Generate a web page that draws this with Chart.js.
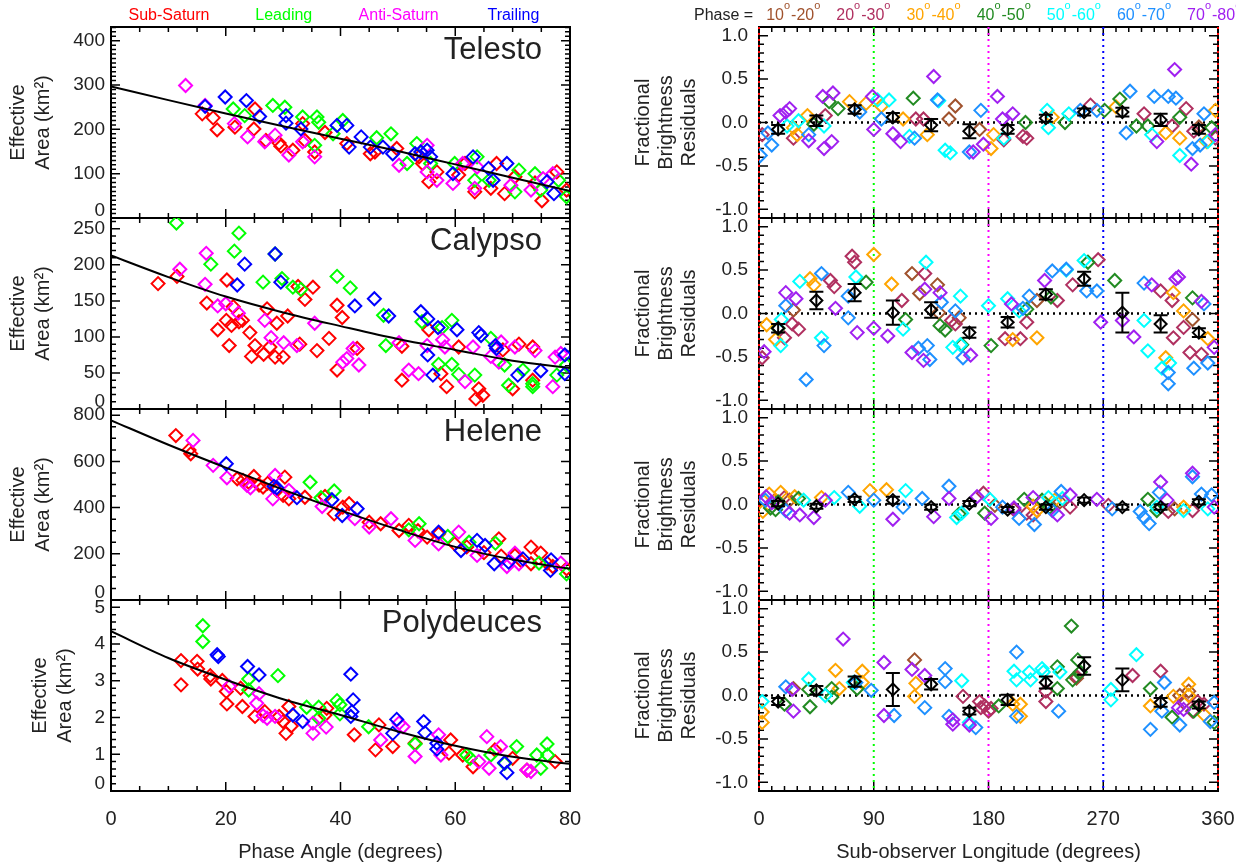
<!DOCTYPE html>
<html>
<head>
<meta charset="utf-8">
<script src="https://cdn.jsdelivr.net/npm/chart.js@4.4.0/dist/chart.umd.min.js"></script>
<style>
  body { margin: 0; background: #fff; width: 1236px; height: 867px; overflow: hidden; position: relative; }
  canvas { position: absolute; }
</style>
</head>
<body>
<script>
// ---- phase-angle panels: [phase (deg), effective area] per viewing side ----
const telSub = [[15.9,235],[17.8,226],[18.5,199],[21.6,205],[24.9,201],[25.1,246],[27.0,175],[29.3,169],[29.6,162],[31.7,153],[33.4,213],[33.8,175],[35.5,149],[37.3,193],[41.1,168],[45.2,145],[46.0,149],[49.8,157],[53.7,138],[54.3,123],[55.4,82],[56.8,104],[60.6,97],[61.7,123],[63.4,59],[66.2,67],[67.2,123],[68.6,55],[70.4,93],[73.9,79],[75.1,39],[77.7,104],[79.4,63]];
const telLead = [[21.3,246],[23.3,231],[28.2,254],[30.3,250],[33.4,228],[35.9,228],[36.2,216],[35.5,164],[38.7,190],[40.4,220],[46.3,181],[48.8,190],[51.6,123],[53.3,168],[55.7,123],[59.9,123],[63.4,85],[63.8,138],[65.9,85],[70.4,59],[71.1,108],[73.9,100],[74.9,63],[78.0,85],[79.4,48]];
const telAnti = [[13.0,299],[16.4,254],[21.5,213],[23.8,183],[26.8,172],[28.6,187],[31.0,142],[33.4,172],[35.5,138],[50.2,119],[55.1,164],[55.1,104],[56.8,85],[59.6,78],[61.3,123],[63.4,67],[63.8,115],[69.7,74],[73.2,63],[75.3,89],[77.0,100]];
const telTrail = [[16.4,252],[19.9,273],[23.6,265],[25.9,229],[30.5,231],[30.5,214],[33.1,201],[39.4,209],[41.1,209],[41.5,160],[43.6,183],[45.2,160],[47.4,160],[49.1,145],[53.0,145],[54.0,149],[55.1,153],[55.7,138],[59.6,100],[63.1,138],[65.8,112],[66.6,85],[69.0,123],[76.0,82],[77.2,55]];

const calSub = [[8.2,174],[11.5,184],[16.7,147],[18.6,110],[20.1,123],[20.2,179],[20.6,88],[21.0,116],[21.3,142],[22.3,121],[22.9,123],[24.2,106],[24.5,73],[25.1,88],[26.6,76],[27.2,139],[27.7,86],[28.6,72],[28.9,119],[30.0,72],[30.8,129],[32.6,170],[32.9,90],[33.8,152],[35.2,169],[35.9,81],[38.0,98],[39.4,144],[39.4,54],[40.3,127],[42.9,84],[50.7,40],[50.7,87],[55.4,110],[57.5,49],[58.5,31],[60.6,86],[64.1,28],[63.6,14],[64.8,19],[68.3,82],[70.0,28],[71.1,90],[73.5,86],[73.5,40]];
const calLead = [[11.4,258],[22.3,244],[21.5,219],[17.4,201],[26.5,176],[28.6,215],[29.8,181],[31.7,169],[33.1,166],[39.4,184],[41.7,168],[47.5,130],[47.9,88],[54.2,121],[57.1,62],[59.4,123],[57.7,113],[59.4,62],[60.6,48],[63.4,47],[66.2,98],[68.6,61],[69.3,33],[71.8,54],[73.5,35],[73.5,31],[77.7,47],[79.4,61]];
const calAnti = [[12.0,194],[16.6,216],[16.4,173],[18.6,143],[20.0,146],[22.2,133],[26.8,123],[27.9,99],[30.1,92],[32.4,88],[35.5,119],[40.4,65],[41.1,70],[42.2,84],[43.2,61],[50.2,92],[51.9,54],[53.6,49],[55.1,88],[57.8,96],[58.2,86],[61.7,38],[63.1,86],[66.2,73],[67.6,65],[68.0,93],[70.4,86],[73.9,81],[77.0,31],[77.4,72],[78.4,77]];
const calTrail = [[22.0,172],[23.3,201],[28.6,215],[29.6,176],[42.5,143],[45.9,153],[48.4,129],[54.0,135],[55.2,125],[57.0,113],[55.2,75],[56.1,47],[60.3,110],[64.1,106],[64.5,102],[67.0,88],[67.2,84],[70.9,47],[74.9,53],[79.1,75],[79.1,49]];

const helSub = [[11.3,712],[13.6,650],[13.9,633],[22.0,525],[23.0,518],[24.0,510],[24.9,535],[25.8,498],[26.5,489],[27.3,505],[28.9,475],[30.3,532],[30.0,453],[31.0,438],[33.8,445],[37.3,448],[38.9,373],[40.4,402],[41.5,417],[45.0,337],[47.0,330],[50.2,301],[51.9,323],[53.5,300],[55.1,272],[57.1,287],[59.9,243],[62.0,230],[65.0,205],[67.6,265],[68.0,190],[70.4,193],[71.5,170],[73.2,229],[74.9,203],[73.2,157],[76.0,160],[77.0,145],[79.4,135]];
const helLead = [[34.7,510],[36.6,443],[38.9,472],[51.9,304],[53.7,330],[58.7,275],[62.4,250],[67.0,246],[74.6,160],[79.4,113]];
const helAnti = [[14.3,691],[17.8,583],[20.2,529],[23.7,496],[24.3,486],[28.6,539],[28.2,438],[31.0,475],[36.8,405],[42.5,352],[45.0,316],[48.8,352],[53.0,258],[57.1,243],[60.6,294],[63.8,193],[69.0,145],[70.4,203],[71.1,157],[78.4,160]];
const helTrail = [[20.1,590],[28.4,492],[28.9,486],[32.4,443],[38.5,434],[40.3,366],[42.9,395],[57.1,294],[61.0,214],[63.8,258],[65.2,236],[66.8,157],[69.3,164],[71.8,178],[76.7,174],[76.6,128]];

const polSub = [[12.2,3.55],[12.2,2.89],[15.0,3.53],[15.1,3.32],[17.3,3.14],[17.4,3.05],[19.4,3.01],[20.1,2.71],[20.2,2.37],[22.6,2.80],[22.9,2.30],[25.1,2.03],[26.8,2.16],[29.3,2.03],[30.0,1.89],[30.5,1.57],[31.0,2.30],[31.4,1.77],[37.3,2.07],[37.6,2.25],[42.4,1.53],[46.1,1.12],[46.7,1.80],[49.1,1.21],[53.0,1.30],[58.9,1.03],[59.2,1.39],[61.3,0.98],[63.1,0.66],[66.9,1.12],[70.0,0.89],[72.5,0.57],[77.4,0.80]];
const polLead = [[16.0,4.50],[16.0,4.07],[24.0,3.05],[24.0,2.75],[29.1,3.14],[34.1,2.28],[36.2,2.28],[36.2,1.98],[39.4,2.46],[39.9,2.35],[39.9,2.10],[44.9,1.75],[53.0,1.28],[62.0,0.98],[62.6,0.89],[66.2,0.98],[68.6,0.75],[70.7,1.21],[74.2,0.98],[74.9,0.62],[76.0,1.28],[76.1,0.98]];
const polAnti = [[20.6,2.85],[25.4,2.39],[25.8,2.65],[26.5,2.05],[27.2,1.98],[28.6,2.03],[35.2,1.57],[35.2,1.85],[37.5,1.74],[47.0,1.39],[50.2,1.85],[50.9,1.75],[53.0,0.94],[57.1,1.53],[57.5,0.98],[64.1,0.80],[65.5,1.48],[65.9,0.62],[67.9,1.21],[72.5,0.57],[73.2,0.53]];
const polTrail = [[18.5,3.71],[18.7,3.66],[23.8,3.39],[25.8,3.16],[31.7,2.07],[33.4,1.89],[41.8,3.18],[42.2,2.48],[42.0,2.16],[41.8,2.03],[49.1,1.57],[49.8,1.95],[54.5,1.89],[54.7,1.59],[56.8,1.30],[56.8,1.14],[68.6,0.77],[69.0,0.50]];

// phase-curve fits, sampled every 10 degrees
const fitPhase = [0, 10, 20, 30, 40, 50, 60, 70, 80];
const telFit = [297, 266, 236, 207, 179, 151, 121, 91, 61];
const calFit = [213, 183, 156, 134, 115, 97, 82, 67, 57];
const helFit = [778, 672, 573, 478, 388, 305, 230, 175, 135];
const polFit = [4.35, 3.62, 3.03, 2.50, 2.07, 1.62, 1.23, 0.93, 0.74];

// ---- longitude panels: [sub-observer longitude (deg), fractional residual] per phase bin ----
const telP10 = [[149,0.04],[154,0.19],[173,-0.08],[345,-0.05]];
const telP20 = [[2.5,-0.14],[27,-0.18],[52,0.08],[123,0.04],[129,0.04],[192,-0.20],[207,-0.16],[210,-0.18],[260,0.20],[302,0.10],[324,-0.04],[335,0.16],[341,-0.10],[358,-0.18]];
const telP30 = [[27,-0.06],[30,-0.14],[38,0.08],[71,0.24],[84,0.22],[96,0.19],[113,0.04],[132,-0.14],[182,-0.30],[184,-0.14],[230,0.06],[280,0.18],[319,-0.12],[330,-0.18],[351,-0.22],[358,0.14]];
const telP40 = [[43,-0.02],[55,0.24],[62,0.16],[121,0.28],[209,0.0],[240,0.0],[271,0.14],[283,0.27],[296,-0.04],[305,-0.04],[330,0.06],[355,-0.06]];
const telP50 = [[22,-0.04],[31,0.02],[51,-0.04],[93,0.26],[102,0.26],[118,-0.16],[141,0.25],[146,-0.32],[150,-0.35],[192,-0.18],[226,0.14],[227,-0.06],[243,0.10],[308,-0.14],[330,-0.38],[352,-0.22]];
const telP60 = [[1,-0.38],[7,-0.12],[10,-0.26],[39,-0.14],[79,0.12],[96,0.04],[122,-0.18],[140,0.26],[165,-0.34],[174,0.14],[252,0.14],[265,0.14],[288,-0.12],[291,0.36],[310,0.30],[321,0.30],[327,0.28],[340,-0.30],[346,-0.26],[349,0.10]];
const telP70 = [[16.5,0.08],[21,0.12],[24,0.16],[39,-0.21],[50,0.30],[51,-0.30],[57,-0.22],[58,0.34],[89,0.30],[90,-0.08],[105,-0.13],[111,-0.22],[137,0.53],[168,-0.34],[176,-0.25],[187,0.30],[191,0.04],[199,0.10],[312,-0.22],[326,0.61],[339,-0.48],[358,-0.14]];

const calP10 = [[27,0.04],[120,0.46],[126,0.23],[140,0.33],[141,0.01],[157,-0.05],[218,0.15],[340,-0.07]];
const calP20 = [[2.5,-0.51],[20,-0.28],[26,-0.12],[31,-0.18],[56,0.38],[59,0.31],[73,0.66],[75,0.59],[112,0.15],[130,0.46],[151,-0.08],[154,-0.12],[193,-0.29],[205,-0.29],[210,-0.10],[234,0.15],[246,0.33],[266,0.62],[315,0.26],[324,0.15],[325,-0.28],[333,-0.16],[338,-0.45],[347,-0.47]];
const calP30 = [[6,-0.13],[13,-0.30],[40,0.40],[43,0.33],[90,0.68],[104,0.34],[199,-0.30],[218,-0.28],[319,-0.51],[325,0.24],[333,0.03],[352,-0.29]];
const calP40 = [[15,-0.17],[84,0.36],[115,-0.07],[142,-0.14],[146,-0.19],[159,-0.36],[182,-0.37],[210,0.05],[229,0.19],[258,0.59],[279,0.38],[340,0.18]];
const calP50 = [[17,-0.37],[17.5,-0.07],[32,0.37],[49,-0.28],[76,0.42],[113,-0.18],[131,0.59],[152,-0.39],[158,0.20],[158,-0.36],[180,0.09],[195,0.17],[204,0.03],[241,0.50],[255,0.61],[302,-0.08],[305,-0.43],[316,-0.63],[322,-0.57]];
const calP60 = [[21,0.09],[37,-0.76],[49,0.46],[51,-0.37],[70,-0.05],[70,0.20],[125,-0.40],[132,-0.37],[134,-0.53],[143,0.13],[154,0.03],[160,-0.51],[207,0.06],[212,0.20],[230,0.49],[241,0.51],[257,0.26],[265,0.26],[302,0.35],[321,-0.68],[321,-0.81],[341,-0.63],[349,0.11],[352,-0.57]];
const calP70 = [[4,-0.44],[21,0.24],[29,0.17],[60,0.06],[77,-0.22],[90,-0.17],[101,-0.26],[120,-0.45],[129,-0.54],[130,0.28],[142,0.24],[166,-0.48],[198,0.11],[224,0.38],[268,-0.10],[285,-0.08],[294,-0.27],[308,0.33],[327,0.40],[329,0.42],[347,0.14],[357,-0.39]];

const helP10 = [[24,0.05],[185,-0.01],[236,0.03],[326,-0.05]];
const helP20 = [[12,0.04],[20,0.08],[176,0.13],[200,-0.06],[210,-0.10],[215,-0.12],[244,-0.03],[274,-0.01],[321,-0.08],[340,-0.07]];
const helP30 = [[3,-0.08],[8,0.12],[17,0.14],[28,0.09],[49,0.08],[87,0.16],[100,0.17],[215,-0.02],[218,-0.07],[222,0.04],[232,0.05],[333,-0.03]];
const helP40 = [[9,-0.04],[13,-0.06],[15,0.03],[31,0.07],[157,-0.11],[177,-0.10],[208,0.06],[222,0.05],[228,-0.03],[305,0.06],[312,-0.07]];
const helP50 = [[35,0.05],[59,0.08],[79,-0.02],[115,0.16],[155,-0.15],[159,-0.10],[181,0.06],[227,0.08],[238,0.07],[312,-0.03],[333,-0.07],[352,-0.05]];
const helP60 = [[5,0.05],[21,-0.07],[70,0.14],[90,0.05],[113,-0.03],[128,0.07],[149,0.21],[191,-0.03],[204,-0.16],[216,-0.23],[230,-0.07],[237,0.15],[277,-0.05],[299,-0.08],[302,-0.15],[306,-0.22],[314,0.14],[340,0.32],[347,0.12],[355,0.11]];
const helP70 = [[5.6,0.09],[10,0.02],[24,-0.10],[32,-0.12],[43,-0.15],[52,0.05],[105,-0.17],[137,-0.14],[149,0.07],[171,0.09],[182,-0.16],[200,-0.04],[215,0.08],[234,-0.12],[244,0.11],[265,0.06],[315,0.26],[320,0.05],[340,0.36],[357,-0.03]];

const polP10 = [[27,0.08],[122,0.41],[249,0.20],[330,0.0],[337,0.05]];
const polP20 = [[160,-0.01],[173,-0.07],[174,-0.14],[177,-0.12],[180,-0.18],[182,-0.15],[225,0.05],[225,-0.07],[249,0.22],[293,0.23],[315,0.28],[333,-0.08],[340,-0.18],[344,-0.07],[349,-0.10]];
const polP30 = [[2.5,-0.19],[2.5,-0.31],[60,0.29],[63,0.08],[81,0.28],[81,0.15],[122,-0.01],[123,0.14],[199,-0.10],[205,-0.24],[205,-0.10],[307,-0.12],[325,-0.01],[337,0.13],[337,0.0],[349,-0.22]];
const polP40 = [[20,-0.10],[39,0.07],[40,-0.13],[57,0.08],[57,-0.02],[77,0.08],[188,-0.12],[234,0.33],[234,0.08],[245,0.80],[246,0.18],[250,0.41],[252,0.27],[307,0.08],[324,-0.25],[341,-0.18],[357,-0.31]];
const polP50 = [[2.5,-0.07],[39,0.19],[52,0.0],[74,0.15],[159,0.17],[165,-0.31],[200,0.28],[202,0.18],[212,0.27],[213,0.18],[222,0.31],[223,0.27],[236,0.27],[276,0.07],[276,-0.05],[296,0.47]];
const polP60 = [[21,0.10],[76,0.15],[88,0.06],[106,-0.23],[130,-0.14],[146,0.31],[146,0.16],[149,-0.24],[170,-0.37],[202,0.50],[202,-0.24],[235,-0.18],[307,-0.39],[316,-0.18],[318,0.15],[330,-0.34],[354,-0.30],[357,-0.08]];
const polP70 = [[26,0.07],[27,-0.18],[66,0.65],[98,0.38],[98,-0.23],[120,0.30],[130,0.23],[152,-0.28],[152,-0.33],[165,-0.34],[329,-0.14],[333,-0.16]];

// 30-degree longitude bin means with their errors
const binLon = [15, 45, 75, 105, 135, 165, 195, 225, 255, 285, 315, 345];
const telBin = [-0.08, 0.02, 0.15, 0.06, -0.03, -0.10, -0.08, 0.05, 0.12, 0.12, 0.03, -0.08];
const telBinErr = [0.05, 0.06, 0.05, 0.05, 0.07, 0.08, 0.05, 0.04, 0.04, 0.05, 0.07, 0.05];
const calBin = [-0.17, 0.15, 0.24, 0.01, 0.04, -0.22, -0.10, 0.22, 0.40, 0.01, -0.12, -0.22];
const calBinErr = [0.05, 0.10, 0.10, 0.14, 0.09, 0.06, 0.06, 0.06, 0.08, 0.23, 0.10, 0.05];
const helBin = [0.01, -0.02, 0.06, 0.05, -0.03, 0.01, -0.06, -0.03, 0.05, -0.03, -0.03, 0.03];
const helBinErr = [0.03, 0.03, 0.03, 0.04, 0.03, 0.03, 0.03, 0.03, 0.03, 0.03, 0.03, 0.03];
const polBin = [-0.07, 0.06, 0.16, 0.07, 0.13, -0.18, -0.05, 0.15, 0.34, 0.18, -0.08, -0.11];
const polBinErr = [0.04, 0.05, 0.06, 0.19, 0.06, 0.04, 0.06, 0.07, 0.10, 0.13, 0.05, 0.04];

// tick labels
const phaseTicks = [0, 20, 40, 60, 80];
const lonTicks = [0, 90, 180, 270, 360];
const telTicks = [0, 100, 200, 300, 400];
const calTicks = [0, 50, 100, 150, 200, 250];
const helTicks = [0, 200, 400, 600, 800];
const polTicks = [0, 1, 2, 3, 4, 5];
const residTicks = [-1.0, -0.5, 0.0, 0.5, 1.0];

const moonNames = ['Telesto', 'Calypso', 'Helene', 'Polydeuces'];
const sideNames = ['Sub-Saturn', 'Leading', 'Anti-Saturn', 'Trailing'];
const sideColors = ['#ff0000', '#00ff00', '#ff00ff', '#0000ff'];
const phaseBins = [[10, 20], [20, 30], [30, 40], [40, 50], [50, 60], [60, 70], [70, 80]];
const phaseColors = ['#a0522d', '#b03060', '#ffa500', '#228b22', '#00ffff', '#1e90ff', '#a020f0'];
const lonLines = [0, 90, 180, 270, 360];
const lonLineColors = ['#ff0000', '#00ff00', '#ff00ff', '#0000ff', '#ff0000'];

const FONT = '"Liberation Sans", Arial, Helvetica, sans-serif';
const INK = '#222';
const PANEL_TOP = [27, 218, 409, 600];
const PANEL_H = 191;
const PAGE_H = 867;
const LEFT_COL = { canvasLeft: 0, canvasWidth: 620, plotLeft: 111, plotRight: 570 };
const RIGHT_COL = { canvasLeft: 620, canvasWidth: 616, plotLeft: 759, plotRight: 1218 };

function stepValues(min, max, step) {
  const out = [];
  const n0 = Math.ceil(min / step - 1e-9), n1 = Math.floor(max / step + 1e-9);
  for (let i = n0; i <= n1; i++) out.push(+(i * step).toFixed(6));
  return out;
}
const isMajor = (v, list) => list.some(t => Math.abs(t - v) < 1e-6);
const toPts = arr => arr.map(p => ({ x: p[0], y: p[1] }));

function diamonds(arr, color, order, r) {
  return {
    data: toPts(arr), order,
    pointStyle: 'rectRot', pointRadius: r || 6.5, pointHoverRadius: r || 6.5,
    borderColor: color, pointBorderColor: color,
    backgroundColor: 'rgba(0,0,0,0)', pointBackgroundColor: 'rgba(0,0,0,0)',
    borderWidth: 2, pointBorderWidth: 2, showLine: false
  };
}

// draws text pieces left to right, "sup" pieces raised and smaller
function drawRuns(ctx, x, runs) {
  for (const r of runs) {
    ctx.font = (r.sup ? '11px ' : '16px ') + FONT;
    ctx.fillText(r.t, x, r.sup ? 9 : 20);
    x += ctx.measureText(r.t).width + (r.sup ? 1 : 0);
  }
  return x;
}

const deco = {
  id: 'deco',
  beforeDatasetsDraw(chart) {
    const c = chart.canvas._deco, ctx = chart.ctx, a = chart.chartArea;
    const x = chart.scales.x, y = chart.scales.y;
    ctx.save();
    if (c.zeroLine) {
      const py = y.getPixelForValue(0);
      ctx.strokeStyle = '#000'; ctx.lineWidth = 2.5; ctx.setLineDash([2, 4]);
      ctx.beginPath(); ctx.moveTo(a.left, py); ctx.lineTo(a.right, py); ctx.stroke();
    }
    ctx.setLineDash([]);
    ctx.strokeStyle = '#000'; ctx.lineWidth = 2;
    ctx.strokeRect(a.left, a.top, a.right - a.left, a.bottom - a.top);
    ctx.lineWidth = 1.5;
    ctx.beginPath();
    for (const v of stepValues(x.min, x.max, c.xMinor)) {
      const px = x.getPixelForValue(v), len = isMajor(v, c.xTicks) ? 9 : 5;
      ctx.moveTo(px, a.bottom); ctx.lineTo(px, a.bottom - len);
      ctx.moveTo(px, a.top); ctx.lineTo(px, a.top + len);
    }
    for (const v of stepValues(y.min, y.max, c.yMinor)) {
      const py = y.getPixelForValue(v), len = isMajor(v, c.yTicks) ? 9 : 5;
      ctx.moveTo(a.left, py); ctx.lineTo(a.left + len, py);
      ctx.moveTo(a.right, py); ctx.lineTo(a.right - len, py);
    }
    ctx.stroke();
    if (c.lonLines) {
      ctx.lineWidth = 2; ctx.setLineDash([2, 4]);
      lonLines.forEach((lon, i) => {
        const px = x.getPixelForValue(lon);
        ctx.strokeStyle = lonLineColors[i];
        ctx.beginPath(); ctx.moveTo(px, a.top); ctx.lineTo(px, a.bottom); ctx.stroke();
      });
    }
    ctx.restore();
  },
  afterDatasetsDraw(chart) {
    const c = chart.canvas._deco, ctx = chart.ctx;
    if (!c.bins) return;
    const x = chart.scales.x, y = chart.scales.y;
    ctx.save();
    ctx.strokeStyle = '#000'; ctx.lineWidth = 2;
    ctx.beginPath();
    binLon.forEach((lon, i) => {
      const px = x.getPixelForValue(lon);
      const hi = y.getPixelForValue(c.bins[i] + c.errs[i]);
      const lo = y.getPixelForValue(c.bins[i] - c.errs[i]);
      ctx.moveTo(px, hi); ctx.lineTo(px, lo);
      ctx.moveTo(px - 7, hi); ctx.lineTo(px + 7, hi);
      ctx.moveTo(px - 7, lo); ctx.lineTo(px + 7, lo);
    });
    ctx.stroke();
    ctx.restore();
  },
  afterDraw(chart) {
    const c = chart.canvas._deco, ctx = chart.ctx, a = chart.chartArea;
    const x = chart.scales.x, y = chart.scales.y;
    const ox = c.originX, oy = c.originY;
    const top = a.top + oy, bottom = a.bottom + oy;
    ctx.save();
    ctx.translate(-ox, -oy);
    ctx.fillStyle = INK;

    // y tick labels
    ctx.font = '19px ' + FONT; ctx.textAlign = 'right'; ctx.textBaseline = 'middle';
    for (const t of c.yTicks) {
      const py = Math.min(y.getPixelForValue(t) + oy, bottom - 7);
      ctx.fillText(t.toFixed(c.decimals), c.labelRight, py);
    }

    // rotated y title
    ctx.font = '20px ' + FONT; ctx.textAlign = 'center';
    c.yTitle.forEach((line, i) => {
      ctx.save();
      ctx.translate(c.yTitleX[i], (top + bottom) / 2);
      ctx.rotate(-Math.PI / 2);
      ctx.fillText(line, 0, 0);
      ctx.restore();
    });

    // moon name
    if (c.name) {
      ctx.font = '31px ' + FONT; ctx.textAlign = 'right'; ctx.textBaseline = 'alphabetic';
      ctx.fillText(c.name, a.right + ox - 28, top + 32);
    }

    // x tick labels and title on the bottom row
    if (c.row === 3) {
      ctx.font = '20px ' + FONT; ctx.textAlign = 'center'; ctx.textBaseline = 'middle';
      for (const t of c.xTicks) ctx.fillText(String(t), x.getPixelForValue(t) + ox, bottom + 28);
      ctx.fillText(c.xTitle, (a.left + a.right) / 2 + ox, bottom + 61);
    }

    // key across the top
    if (c.row === 0) {
      ctx.textBaseline = 'alphabetic';
      if (c.key === 'sides') {
        ctx.font = '16px ' + FONT; ctx.textAlign = 'center';
        sideNames.forEach((s, i) => {
          ctx.fillStyle = sideColors[i];
          ctx.fillText(s, 169 + i * 114.8, 20);
        });
      } else {
        ctx.textAlign = 'left'; ctx.fillStyle = INK;
        let px = drawRuns(ctx, 694, [{ t: 'Phase =' }]) + 13;
        phaseBins.forEach((b, i) => {
          ctx.fillStyle = phaseColors[i];
          px = drawRuns(ctx, px, [{ t: String(b[0]) }, { t: 'o', sup: true }, { t: '-' + b[1] }, { t: 'o', sup: true }]) + 15;
        });
      }
    }
    ctx.restore();
  }
};

function makePanel(col, row, datasets, xRange, yRange, info) {
  const canvasTop = row === 0 ? 0 : PANEL_TOP[row] - 20;
  const padTop = PANEL_TOP[row] - canvasTop;
  const padBottom = row === 3 ? PAGE_H - (PANEL_TOP[row] + PANEL_H) : 20;
  const h = padTop + PANEL_H + padBottom;
  const cv = document.createElement('canvas');
  cv.width = col.canvasWidth; cv.height = h;
  cv.style.left = col.canvasLeft + 'px'; cv.style.top = canvasTop + 'px';
  cv.style.width = col.canvasWidth + 'px'; cv.style.height = h + 'px';
  document.body.appendChild(cv);
  info.originX = col.canvasLeft; info.originY = canvasTop; info.row = row;
  cv._deco = info;
  return new Chart(cv, {
    type: 'scatter',
    data: { datasets },
    options: {
      responsive: false, animation: false, devicePixelRatio: 1, events: [],
      layout: { padding: {
        left: col.plotLeft - col.canvasLeft, right: col.canvasLeft + col.canvasWidth - col.plotRight,
        top: padTop, bottom: padBottom } },
      scales: {
        x: { type: 'linear', min: xRange[0], max: xRange[1], display: false },
        y: { type: 'linear', min: yRange[0], max: yRange[1], display: false }
      },
      plugins: { legend: { display: false }, tooltip: { enabled: false } }
    },
    plugins: [deco]
  });
}

const leftRows = [
  { sets: [telSub, telLead, telAnti, telTrail], fit: telFit, yMax: 431, ticks: telTicks, minor: 10, titleX: [18, 43] },
  { sets: [calSub, calLead, calAnti, calTrail], fit: calFit, yMax: 265, ticks: calTicks, minor: 10, titleX: [18, 43] },
  { sets: [helSub, helLead, helAnti, helTrail], fit: helFit, yMax: 827, ticks: helTicks, minor: 50, titleX: [18, 43] },
  { sets: [polSub, polLead, polAnti, polTrail], fit: polFit, yMax: 5.2, ticks: polTicks, minor: 0.2, titleX: [40, 65] }
];
const rightRows = [
  { sets: [telP10, telP20, telP30, telP40, telP50, telP60, telP70], bins: telBin, errs: telBinErr },
  { sets: [calP10, calP20, calP30, calP40, calP50, calP60, calP70], bins: calBin, errs: calBinErr },
  { sets: [helP10, helP20, helP30, helP40, helP50, helP60, helP70], bins: helBin, errs: helBinErr },
  { sets: [polP10, polP20, polP30, polP40, polP50, polP60, polP70], bins: polBin, errs: polBinErr }
];

leftRows.forEach((r, row) => {
  const ds = r.sets.map((s, i) => diamonds(s, sideColors[i], 10 - i));
  ds.push({
    data: fitPhase.map((p, i) => ({ x: p, y: r.fit[i] })), order: 0,
    showLine: true, borderColor: '#000', borderWidth: 2, pointRadius: 0,
    cubicInterpolationMode: 'monotone', fill: false
  });
  makePanel(LEFT_COL, row, ds, [0, 80], [0, r.yMax], {
    name: moonNames[row], xTicks: phaseTicks, xMinor: 5, yTicks: r.ticks, yMinor: r.minor,
    decimals: 0, labelRight: 105, yTitle: ['Effective', 'Area (km²)'], yTitleX: r.titleX,
    xTitle: 'Phase Angle (degrees)', key: 'sides'
  });
});

rightRows.forEach((r, row) => {
  const ds = r.sets.map((s, i) => diamonds(s, phaseColors[i], 10 - i));
  ds.push(diamonds(binLon.map((l, i) => [l, r.bins[i]]), '#000', 0, 6));
  makePanel(RIGHT_COL, row, ds, [0, 360], [-1.1, 1.1], {
    xTicks: lonTicks, xMinor: 10, yTicks: residTicks, yMinor: 0.1, decimals: 1,
    labelRight: 748, yTitle: ['Fractional', 'Brightness', 'Residuals'], yTitleX: [643, 666, 689],
    xTitle: 'Sub-observer Longitude (degrees)', zeroLine: true, lonLines: true,
    bins: r.bins, errs: r.errs, key: 'phase'
  });
});
</script>
</body>
</html>
